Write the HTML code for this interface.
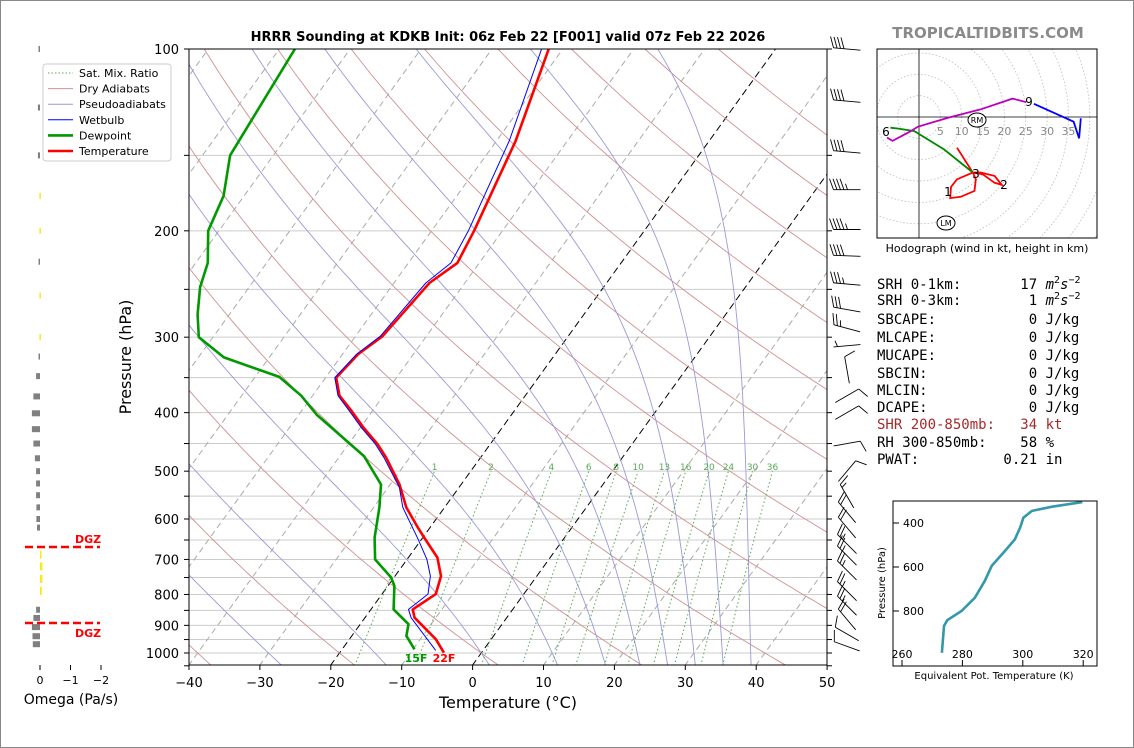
<!DOCTYPE html>
<html><head><meta charset="utf-8"><style>
html,body{margin:0;padding:0;background:#fff;}
#wrap{position:relative;width:1134px;height:748px;overflow:hidden;box-sizing:border-box;border:1px solid #888;}
svg{position:absolute;left:0;top:0;}
text{font-family:"DejaVu Sans","Liberation Sans",sans-serif;}
.mono{font-family:"DejaVu Sans Mono","Liberation Mono",monospace;font-size:14px;white-space:pre;}
</style></head><body>
<div id="wrap">
<svg id="svg" width="1134" height="748" viewBox="0 0 1134 748" xmlns="http://www.w3.org/2000/svg">
<defs>
<clipPath id="mainClip"><rect x="188" y="48" width="638" height="616"/></clipPath>
<clipPath id="hodoClip"><rect x="876" y="48" width="220" height="189"/></clipPath>
<clipPath id="teClip"><rect x="892" y="500" width="204" height="165"/></clipPath>
</defs>
<text x="507" y="40" text-anchor="middle" font-size="13" font-weight="bold">HRRR Sounding at KDKB Init: 06z Feb 22 [F001] valid 07z Feb 22 2026</text>
<text x="987" y="37" text-anchor="middle" font-size="15" font-weight="bold" fill="#8a8a8a">TROPICALTIDBITS.COM</text>
<g id="bg" clip-path="url(#mainClip)"></g>
<g id="profiles" clip-path="url(#mainClip)"></g>
<g id="axes"></g>
<g id="omega"></g>
<g id="barbs"></g>
<g id="hodo"></g>
<g id="te"></g>
<g id="legend"></g>
<text x="130" y="356" text-anchor="middle" font-size="16" transform="rotate(-90 130 356)">Pressure (hPa)</text>
<text x="507" y="707" text-anchor="middle" font-size="16">Temperature (°C)</text>
<text x="70" y="703" text-anchor="middle" font-size="14">Omega (Pa/s)</text>
<text x="415" y="661" text-anchor="middle" font-size="11" font-weight="bold" fill="#009900">15F</text>
<text x="443" y="661" text-anchor="middle" font-size="11" font-weight="bold" fill="#ff0000">22F</text>
<g>
<text class="mono" x="876" y="288">SRH 0-1km:       17 <tspan font-style="italic">m</tspan><tspan font-size="10" dy="-6">2</tspan><tspan font-style="italic" dy="6">s</tspan><tspan font-size="10" dy="-6">−2</tspan></text>
<text class="mono" x="876" y="304">SRH 0-3km:        1 <tspan font-style="italic">m</tspan><tspan font-size="10" dy="-6">2</tspan><tspan font-style="italic" dy="6">s</tspan><tspan font-size="10" dy="-6">−2</tspan></text>
<text class="mono" x="876" y="323">SBCAPE:           0 J/kg</text>
<text class="mono" x="876" y="341">MLCAPE:           0 J/kg</text>
<text class="mono" x="876" y="359">MUCAPE:           0 J/kg</text>
<text class="mono" x="876" y="377">SBCIN:            0 J/kg</text>
<text class="mono" x="876" y="394">MLCIN:            0 J/kg</text>
<text class="mono" x="876" y="411">DCAPE:            0 J/kg</text>
<text class="mono" x="876" y="428" fill="#a52a2a">SHR 200-850mb:   34 kt</text>
<text class="mono" x="876" y="446">RH 300-850mb:    58 %</text>
<text class="mono" x="876" y="463">PWAT:          0.21 in</text>
</g>
</svg>
</div>
<script>
// ---------- data ----------
const tempP = [999,949,874,847,799,746,695,644,620,574,526,475,451,424,397,375,350,320,299,244,226,200,142,100];
const tempT = [-5.3,-7.8,-13.0,-14.1,-12.4,-13.5,-15.9,-19.8,-21.7,-25.4,-28.7,-33.3,-35.9,-39.5,-43.0,-46.2,-48.5,-47.8,-46.2,-45.0,-43.1,-44.0,-47.3,-52.0];
const dewP = [986,937,896,847,774,750,700,644,574,526,472,403,375,349,324,300,275,248,226,200,175,150,100];
const dewT = [-9.8,-12.3,-13.2,-16.8,-19.1,-20.4,-24.5,-26.8,-29.2,-31.3,-36.6,-47.5,-51.6,-56.6,-66.4,-72.0,-74.5,-76.9,-78.3,-81.5,-82.9,-86.1,-87.8];
const wbP = [990,874,847,799,746,700,648,574,532,475,451,424,397,375,350,320,299,244,226,200,142,100];
const wbT = [-6.7,-13.5,-14.7,-13.5,-15.0,-17.2,-20.5,-25.9,-28.4,-33.6,-36.2,-39.8,-43.3,-46.4,-48.7,-48.0,-46.5,-45.5,-44.0,-44.8,-48.2,-53.0];
const omegaP = [100,125,150,175,200,225,256,300,323,348,376,401,426,450,476,500,524,548,574,600,620,685,716,751,786,848,875,906,938,967];
const omegaV = [0.05,0.07,0.07,0.02,0.02,0.05,0.02,0.02,0.05,0.13,0.22,0.27,0.27,0.22,0.17,0.13,0.13,0.13,0.12,0.12,0.10,-0.05,-0.08,-0.08,-0.06,0.13,0.22,0.27,0.25,0.24];
const omegaDGZ = [0,0,0,1,1,0,1,1,0,0,0,0,0,0,0,0,0,0,0,0,0,1,1,1,1,0,0,0,0,0];
const barbP = [100,122,148,171,199,220,245,270,290,310,340,375,400,450,500,550,585,620,660,690,730,790,835,880,930,975];
const barbDir = [275,275,275,270,270,272,275,280,285,265,350,60,60,80,40,330,320,320,315,315,315,315,315,320,300,290];
const barbSpd = [40,40,40,45,45,40,35,30,25,5,10,10,10,10,10,15,20,20,25,25,25,25,25,20,10,10];
const hodoRedU = [8.9,12.6,13.3,13.0,9.8,7.3,7.5,8.9,12.6,14.4,17.7,19.4,17.7,14.9,12.6];
const hodoRedV = [-7.2,-13.0,-14.6,-17.3,-18.7,-19.0,-16.4,-14.6,-13.0,-13.0,-13.8,-15.9,-15.4,-13.4,-13.0];
const hodoGreenU = [12.6,5.9,-1.1,-5.0,-6.7];
const hodoGreenV = [-13.0,-7.6,-3.3,-2.7,-2.5];
const hodoMagU = [-7.5,-6.2,-1.9,-0.3,6.7,14.5,21.9,25.1];
const hodoMagV = [-4.8,-5.6,-3.3,-2.3,-0.2,1.8,4.3,3.5];
const hodoBlueU = [26.9,36.2,37.5,37.9];
const hodoBlueV = [3.1,-1.1,-5.0,-0.3];
const thetaeP = [990,868,842,800,740,664,595,527,474,421,376,345,326,305];
const thetaeK = [273.2,273.9,275.0,279.7,284.1,287.4,289.7,294.1,297.4,299.1,300.2,303.0,309.7,319.7];
const mixRatios = [1,2,4,6,8,10,13,16,20,24,30,36];
const dryThetaC = [-60,-40,-20,0,20,40,60,80,100,120,140,160,180,200];
const moistT0 = [-30,-15,0,10,17,22,26,30,34,38];
const isoT = [-160,-150,-140,-130,-120,-110,-100,-90,-80,-70,-60,-50,-40,-30,-20,-10,0,10,20,30,40,50];
const xTicks = [-40,-30,-20,-10,0,10,20,30,40,50];
const pLabels = [100,200,300,400,500,600,700,800,900,1000];
const hodoRings = [5,10,15,20,25,30,35];
const teXTicks = [260,280,300,320];
const teYTicks = [400,600,800];

// ---------- scales ----------
const NS='http://www.w3.org/2000/svg';
function yP(p){return 48+604*Math.log10(p/100);}
function xT(T,p){return 188+(T+40)*7.09+0.722*(664-yP(p));}
function hx(u){return 918+u*4.27;}
function hy(v){return 116-v*4.27;}
function tx(k){return 901+(k-260)*3.02;}
function ty(p){return 522+(p-400)*0.22;}
function mk(tag,attrs,parent){const e=document.createElementNS(NS,tag);for(const k in attrs)e.setAttribute(k,attrs[k]);parent.appendChild(e);return e;}
function poly(pts){return pts.map(q=>q[0].toFixed(1)+','+q[1].toFixed(1)).join(' ');}
const bg=document.getElementById('bg'),pr=document.getElementById('profiles'),ax=document.getElementById('axes');

// isobars
for(let p=100;p<=1000;p+=50){
  const l=mk('line',{x1:188,x2:826,y1:yP(p),y2:yP(p),stroke:'#cccccc','stroke-width':1},bg);
  
  
}
// isotherms
isoT.forEach(T=>{
  const blk=(T===-20||T===0);
  const l=mk('line',{x1:xT(T,1050),y1:yP(1050),x2:xT(T,100),y2:yP(100),stroke:blk?'#000':'#aaaaaa','stroke-width':1,'stroke-dasharray':blk?'7,4':'6,4'},bg);
  
  
});
// dry adiabats
dryThetaC.forEach(th=>{
  const pts=[];for(let p=1050;p>=100;p-=10){const T=(th+273.15)*Math.pow(p/1000,0.2857)-273.15;pts.push([xT(T,p),yP(p)]);}
  const l=mk('polyline',{points:poly(pts),fill:'none',stroke:'#d09090','stroke-width':0.9},bg);
  
  
});
// moist adiabats
function es(T){return 6.112*Math.exp(17.67*T/(T+243.5));}
function dTdp(T,p){const Tk=T+273.15,e=es(T),rs=0.622*e/(p-e);return (287*Tk+2.5e6*rs)/(p*(1005+2.5e6*2.5e6*rs*0.622/(287*Tk*Tk)));}
moistT0.forEach(t0=>{
  const up=[];let T=t0;for(let p=1000;p>=100;p-=5){up.push([xT(T,p),yP(p)]);T-=dTdp(T,p)*5;}
  const dn=[];T=t0;for(let p=1000;p<=1050;p+=5){dn.unshift([xT(T,p),yP(p)]);T+=dTdp(T,p)*5;}
  const l=mk('polyline',{points:poly(dn.concat(up)),fill:'none',stroke:'#9a9ad8','stroke-width':0.9},bg);
  
  
});
// mixing ratio lines
mixRatios.forEach(w=>{
  const pts=[];for(let p=1050;p>=500;p-=10){const e=w*p/(622+w);const a=Math.log(e/6.112);const Td=243.5*a/(17.67-a);pts.push([xT(Td,p),yP(p)]);}
  const l=mk('polyline',{points:poly(pts),fill:'none',stroke:'#55aa55','stroke-width':1,'stroke-dasharray':'1.5,2.5'},bg);
  
  
  const last=pts[pts.length-1];
  const t=mk('text',{x:last[0],y:last[1]-1,'text-anchor':'middle','font-size':9,fill:'#55aa55'},bg);t.textContent=w;
  
  
});
// profiles
function profile(P,T,color,w,name){
  const pts=P.map((p,i)=>[xT(T[i],p),yP(p)]);
  const l=mk('polyline',{points:poly(pts),fill:'none',stroke:color,'stroke-width':w,'stroke-linejoin':'round'},pr);
  
  
}
profile(dewP,dewT,'#009900',2.6,'dewpoint-line');
profile(tempP,tempT,'#ff0000',2.6,'temperature-line');
profile(wbP,wbT,'#0000ff',1,'wetbulb-line');

// axes
const fr=mk('rect',{x:188,y:48,width:638,height:616,fill:'none',stroke:'#000','stroke-width':1},ax);


xTicks.forEach(T=>{
  const x=188+(T+40)*7.09;
  mk('line',{x1:x,x2:x,y1:664,y2:669,stroke:'#000'},ax);
  const t=mk('text',{x:x,y:686,'text-anchor':'middle','font-size':13},ax);t.textContent=(T<0?'−'+(-T):T);
  
  
});
for(let p=100;p<=1050;p+=50){
  const y=yP(p);
  mk('line',{x1:183,x2:188,y1:y,y2:y,stroke:'#000'},ax);
  mk('line',{x1:826,x2:831,y1:y,y2:y,stroke:'#000'},ax);
}
pLabels.forEach(p=>{
  const t=mk('text',{x:178,y:yP(p)+5,'text-anchor':'end','font-size':13},ax);t.textContent=p;
  
  
});

// omega panel
const om=document.getElementById('omega');
for(let p=100;p<=1000;p+=0){break;}
omegaP.forEach((p,i)=>{
  const v=omegaV[i];const x0=39,x1=39-v*30;
  const w=Math.max(1.5,Math.abs(x1-x0));
  const r=mk('rect',{x:Math.min(x0,x1),y:yP(p)-3,width:w,height:omegaDGZ[i]&&p>600?8:6,fill:omegaDGZ[i]?'#f5ea1a':'#808080'},om);
  
  
});
[0,-1,-2].forEach(v=>{
  const x=39-v*30.5;
  mk('line',{x1:x,x2:x,y1:664,y2:669,stroke:'#000'},om);
  const t=mk('text',{x:x,y:683,'text-anchor':'middle','font-size':11},om);t.textContent=v===0?'0':'−'+(-v);
  
  
});
[546,622].forEach((y,i)=>{
  const l=mk('line',{x1:24,x2:99,y1:y,y2:y,stroke:'#ff0000','stroke-width':2.5,'stroke-dasharray':'8,4'},om);
  
  
  const t=mk('text',{x:74,y:i===0?542:636,'font-size':11,'font-weight':'bold',fill:'#ff0000'},om);t.textContent='DGZ';
  
  
});

// wind barbs
const bb=document.getElementById('barbs');
barbP.forEach((p,i)=>{
  const d=barbDir[i]*Math.PI/180;const ux=Math.sin(d),uy=-Math.cos(d);
  const px=-uy,py=ux;
  const cx=846,cy=yP(p),L=27;
  const ex=cx+ux*L/2,ey=cy+uy*L/2,bx=cx-ux*L/2,by=cy-uy*L/2;
  const g=mk('g',{stroke:'#000','stroke-width':0.9,fill:'none'},bb);
  
  
  mk('line',{x1:bx,y1:by,x2:ex,y2:ey},g);
  let s=barbSpd[i];let k=0;
  if(s<10&&s>=5){const ox=ex-ux*4,oy=ey-uy*4;mk('line',{x1:ox,y1:oy,x2:ox+px*6+ux*2,y2:oy+py*6+uy*2},g);s=0;}
  while(s>=10){const ox=ex-ux*k*3.5,oy=ey-uy*k*3.5;mk('line',{x1:ox,y1:oy,x2:ox+px*11+ux*4,y2:oy+py*11+uy*4},g);s-=10;k++;}
  if(s>=5){const ox=ex-ux*k*3.5,oy=ey-uy*k*3.5;mk('line',{x1:ox,y1:oy,x2:ox+px*6+ux*2,y2:oy+py*6+uy*2},g);}
});

// hodograph
const hd=document.getElementById('hodo');
const hc=mk('g',{'clip-path':'url(#hodoClip)'},hd);
for(let r=5;r<=60;r+=5){mk('circle',{cx:918,cy:116,r:r*4.27,fill:'none',stroke:'#bbbbbb','stroke-width':0.8,'stroke-dasharray':'1.5,2'},hc);}
mk('line',{x1:918,x2:918,y1:48,y2:237,stroke:'#000','stroke-width':0.8},hc);
mk('line',{x1:876,x2:1096,y1:116,y2:116,stroke:'#000','stroke-width':0.8},hc);
hodoRings.forEach(r=>{const t=mk('text',{x:hx(r),y:134,'text-anchor':'middle','font-size':11,fill:'#888'},hc);t.textContent=r;
  
  });
function hseg(U,V,c,name){const l=mk('polyline',{points:poly(U.map((u,i)=>[hx(u),hy(V[i])])),fill:'none',stroke:c,'stroke-width':1.8},hc);
  
  }
hseg(hodoRedU,hodoRedV,'#ff0000','hodo-0-3km');
hseg(hodoGreenU,hodoGreenV,'#008800','hodo-3-6km');
hseg(hodoMagU,hodoMagV,'#bb00bb','hodo-6-9km');
hseg(hodoBlueU,hodoBlueV,'#0000ff','hodo-9km-plus');
[['1',947,195],['2',1003,188],['3',975,177],['6',885,135],['9',1028,105]].forEach(a=>{const t=mk('text',{x:a[1],y:a[2],'text-anchor':'middle','font-size':12},hc);t.textContent=a[0];
  
  });
[['RM',976,119],['LM',945,222]].forEach(a=>{mk('ellipse',{cx:a[1],cy:a[2],rx:9,ry:7,fill:'#fff',stroke:'#000','stroke-width':1},hc);
  const t=mk('text',{x:a[1],y:a[2]+3,'text-anchor':'middle','font-size':8},hc);t.textContent=a[0];
  
  });
mk('rect',{x:876,y:48,width:220,height:189,fill:'none',stroke:'#000','stroke-width':1},hd);
const hcap=mk('text',{x:986,y:251,'text-anchor':'middle','font-size':11},hd);hcap.textContent='Hodograph (wind in kt, height in km)';



// theta-e inset
const te=document.getElementById('te');
const tl=mk('polyline',{points:poly(thetaeP.map((p,i)=>[tx(thetaeK[i]),ty(p)])),fill:'none',stroke:'#3399aa','stroke-width':2.6,'clip-path':'url(#teClip)'},te);


mk('rect',{x:892,y:500,width:204,height:165,fill:'none',stroke:'#000','stroke-width':1},te);
teXTicks.forEach(k=>{mk('line',{x1:tx(k),x2:tx(k),y1:665,y2:659,stroke:'#000'},te);
  const t=mk('text',{x:tx(k),y:657,'text-anchor':'middle','font-size':11},te);t.textContent=k;
  
  });
teYTicks.forEach(p=>{mk('line',{x1:892,x2:898,y1:ty(p),y2:ty(p),stroke:'#000'},te);
  const t=mk('text',{x:902,y:ty(p)+4,'font-size':11},te);t.textContent=p;
  
  });
const tt=mk('text',{x:993,y:678,'text-anchor':'middle','font-size':10},te);tt.textContent='Equivalent Pot. Temperature (K)';


const ty2=mk('text',{x:884,y:582,'text-anchor':'middle','font-size':10,transform:'rotate(-90 884 582)'},te);ty2.textContent='Pressure (hPa)';



// legend
const lg=document.getElementById('legend');
mk('rect',{x:42,y:63,width:128,height:97,rx:3,fill:'#fff',stroke:'#cccccc'},lg);
[['Sat. Mix. Ratio','#55aa55',1,'1.5,2'],['Dry Adiabats','#d09090',1,''],['Pseudoadiabats','#9a9ad8',1,''],['Wetbulb','#0000ff',1,''],['Dewpoint','#009900',2.6,''],['Temperature','#ff0000',2.6,'']].forEach((e,i)=>{
  const y=72+i*15.6;
  const l=mk('line',{x1:47,x2:72,y1:y,y2:y,stroke:e[1],'stroke-width':e[2]},lg);if(e[3])l.setAttribute('stroke-dasharray',e[3]);
  const t=mk('text',{x:78,y:y+4,'font-size':11},lg);t.textContent=e[0];
  
  
});
</script>
</body></html>
